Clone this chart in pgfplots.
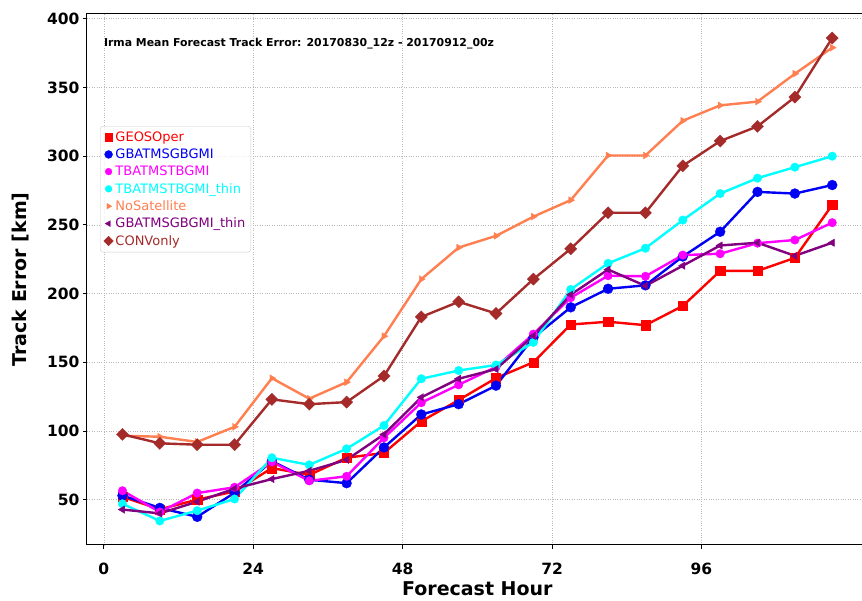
\documentclass[border=0pt]{standalone}
\usepackage{pgfplots}
\pgfplotsset{compat=1.18}
\usepackage{fontspec}
\setmainfont{DejaVu Sans}
\definecolor{cgeos}{RGB}{255,0,0}
\definecolor{cblue}{RGB}{0,0,245}
\definecolor{cmag}{RGB}{255,0,255}
\definecolor{ccyan}{RGB}{0,255,255}
\definecolor{ccoral}{RGB}{255,127,80}
\definecolor{cpurple}{RGB}{128,0,128}
\definecolor{cbrown}{RGB}{165,42,42}
\begin{document}
\begin{tikzpicture}
\begin{axis}[
  name=ax,
  at={(0,0)}, anchor=south west,
  scale only axis,
  width=780.7pt, height=531pt,
  xmin=-2.7, xmax=122.7,
  ymin=17, ymax=403.5,
  xtick={0,24,48,72,96},
  ytick={50,100,150,200,250,300,350,400},
  xtick pos=bottom, ytick pos=left,
  tick align=outside,
  major tick length=4pt,
  tick style={black, line width=0.8pt},
  axis line style={black, line width=1pt},
  /pgf/number format/assume math mode=true,
  ticklabel style={font=\bfseries\fontsize{15.5}{18}\selectfont},
  xticklabel style={yshift=-10pt},
  xlabel={Forecast Hour},
  ylabel={Track Error [km]},
  label style={font=\bfseries\fontsize{19}{22}\selectfont},
  xlabel style={yshift=-1pt},
  ylabel style={yshift=11pt},
  grid=major,
  grid style={dotted, black!28, line width=0.6pt},
  every axis plot/.append style={line width=2.4pt},
  legend cell align=left,
  legend image code/.code={\draw[#1, fill opacity=1, draw opacity=1, every mark/.append style={scale=0.8}] plot coordinates {(0pt,0pt)};},
  legend style={
    at={(rel axis cs:0.0167,0.789)}, anchor=north west,
    draw=black!20, rounded corners=3pt,
    fill=white, fill opacity=0.8, text opacity=1,
    font=\fontsize{13}{14.5}\selectfont,
    row sep=2pt, inner sep=3.5pt,
    /tikz/every even column/.append style={column sep=7pt},
  },
]
\addplot[cgeos, mark=square*, mark size=4.6pt, mark options={solid, line width=0.3pt}] coordinates {
(3,52) (9,43) (15,50) (21,56) (27,73) (33,68) (39,80.5) (45,84) (51,107) (57,122.5)
(63,138.5) (69,150) (75,177.5) (81,179.5) (87,177) (93,191) (99,216.5) (105,216.5) (111,226) (117,264.5)};
\addlegendentry{\textcolor{cgeos}{GEOSOper}}
\addplot[cblue, mark=*, mark size=5pt, mark options={line width=0.3pt}] coordinates {
(3,53) (9,44) (15,37.5) (21,55) (27,78) (33,64.5) (39,62) (45,88) (51,112) (57,119.5)
(63,133) (69,168) (75,190) (81,203.5) (87,206) (93,227) (99,245) (105,274) (111,272.8) (117,279)};
\addlegendentry{\textcolor{cblue}{GBATMSGBGMI}}
\addplot[cmag, mark=*, mark size=4.3pt, mark options={line width=0.3pt}] coordinates {
(3,56.5) (9,41) (15,54.8) (21,59) (27,77.5) (33,63.7) (39,67) (45,95) (51,120.6) (57,133.6)
(63,146.6) (69,170.5) (75,197) (81,213) (87,212.6) (93,228) (99,229) (105,236.7) (111,239) (117,251.6)};
\addlegendentry{\textcolor{cmag}{TBATMSTBGMI}}
\addplot[ccyan, mark=*, mark size=4.3pt, mark options={line width=0.3pt}] coordinates {
(3,47) (9,34.5) (15,42) (21,50.5) (27,80.5) (33,75.3) (39,87) (45,104) (51,138) (57,144)
(63,148) (69,164.5) (75,203) (81,222) (87,233) (93,253.5) (99,272.8) (105,284) (111,292) (117,300)};
\addlegendentry{\textcolor{ccyan}{TBATMSTBGMI\_thin}}
\addplot[ccoral, mark=triangle*, mark size=4pt, mark options={rotate=-90, line width=0.3pt}] coordinates {
(3,96.5) (9,95.8) (15,92) (21,103) (27,138.4) (33,123.5) (39,135.5) (45,169) (51,210.5) (57,233.5)
(63,242) (69,256) (75,268) (81,300.5) (87,300.5) (93,325.8) (99,337) (105,339.7) (111,360) (117,379)};
\addlegendentry{\textcolor{ccoral}{NoSatellite}}
\addplot[cpurple, mark=triangle*, mark size=4.3pt, mark options={rotate=90, line width=0.3pt}] coordinates {
(3,42.8) (9,40) (15,48.5) (21,58) (27,65) (33,71) (39,79) (45,97.5) (51,124.5) (57,138)
(63,145) (69,169.2) (75,199.2) (81,217.5) (87,205.6) (93,220.3) (99,235) (105,237) (111,227.5) (117,237)};
\addlegendentry{\textcolor{cpurple}{GBATMSGBGMI\_thin}}
\addplot[cbrown, mark=square*, mark size=4.3pt, mark options={rotate=45, line width=0.3pt}] coordinates {
(3,97.5) (9,91) (15,90) (21,90) (27,123) (33,119.5) (39,121) (45,140) (51,183) (57,194)
(63,185.5) (69,210.5) (75,232.6) (81,258.8) (87,258.8) (93,293) (99,311) (105,321.7) (111,343) (117,386)};
\addlegendentry{\textcolor{cbrown}{CONVonly}}
\node[anchor=west, inner sep=0pt, font=\bfseries\fontsize{10.9}{12}\selectfont] at (axis cs:0,381.8)
  {Irma Mean Forecast Track Error: 20170830\_12z - 20170912\_00z};
\end{axis}
\pgfresetboundingbox
\path[use as bounding box] ([shift={(-87pt,-56pt)}]ax.south west) rectangle ([shift={(775pt,545pt)}]ax.south west);
\end{tikzpicture}
\end{document}
